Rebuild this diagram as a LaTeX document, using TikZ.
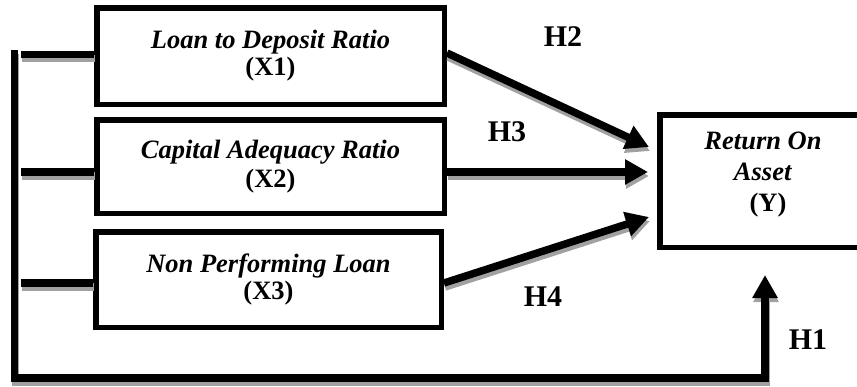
\documentclass[tikz,border=0pt]{standalone}
\usepackage{fontspec}
\setmainfont{Liberation Serif}
\usetikzlibrary{arrows.meta,calc}

\tikzset{
  varbox/.style={draw, line width=5.5pt, fill=white, inner sep=0pt, align=center,
    font=\fontsize{26.5}{27}\selectfont},
  link/.style={line width=7.5pt},
  tip/.style={-{Triangle[length=23pt,width=24pt]}},
  hyp/.style={font=\fontsize{30}{30}\selectfont\bfseries, inner sep=0pt},
}

% all connectors, drawn once as a shadow and once in black
\newcommand\drawlinks{%
  \draw[link] (s1) -- (s1 -| stubx);
  \draw[link] (s2) -- (s2 -| stubx);
  \draw[link] (s3) -- (s3 -| stubx);
  \draw[link, tip] ([yshift=3pt]X1.east) -- (t2);
  \draw[link, tip] (X2.east |- t3) -- (t3);
  \draw[link, tip] ([yshift=-3.5pt]X3.east) -- (t4);
  \draw[link, tip] (rail) -- (floor) -| (t1);
}

\begin{document}
\begin{tikzpicture}[x=1pt, y=-1pt]
  \useasboundingbox (0,0) rectangle (857,386);
  \clip (0,0) rectangle (857,386);

  % independent variables
  \node[varbox, minimum width=347.5pt, minimum height=96.5pt] (X1) at (270.5,56)
    {\textbf{\textit{Loan to Deposit Ratio}}\\\textbf{(X1)}};
  \node[varbox, minimum width=347.5pt, minimum height=93.5pt,
        font=\fontsize{26.5}{29}\selectfont] (X2) at (270.5,166.5)
    {\textbf{\textit{Capital Adequacy Ratio}}\\\textbf{(X2)}};
  \node[varbox, minimum width=345.5pt, minimum height=95.5pt] (X3) at (268.5,279.5)
    {\textbf{\textit{Non Performing Loan}}\\\textbf{(X3)}};

  % dependent variable
  \node[draw, line width=5.5pt, minimum width=206.5pt, minimum height=132.5pt] (Y) at (763,181) {};
  \node[align=center, inner sep=0pt, font=\fontsize{26.5}{31}\selectfont] (Ytext) at (763,175)
    {\textbf{\textit{Return On}}\\\textbf{\textit{Asset}}\\\hspace*{10pt}\textbf{(Y)}};

  % connector anchors
  \coordinate (rail) at (14.5,50);
  \coordinate (floor) at (14.5,378);
  \coordinate (stubx) at (21,0);
  \coordinate (s1) at ([yshift=1.5pt]X1.west);
  \coordinate (s2) at ([yshift=-5.5pt]X2.west);
  \coordinate (s3) at ([yshift=-3.5pt]X3.west);
  \coordinate (t2) at ([xshift=-8pt,yshift=34pt]Y.west);
  \coordinate (t3) at ([xshift=-9pt,yshift=9pt]Y.west);
  \coordinate (t4) at ([xshift=-8pt,yshift=-36pt]Y.west);
  \coordinate (t1) at ([xshift=2pt,yshift=-25pt]Y.south);

  \begin{scope}[black!37, transform canvas={shift={(1pt,-4pt)}}]
    \drawlinks
  \end{scope}
  \drawlinks

  % hypothesis labels
  \node[hyp] (H2) at (563,37) {H2};
  \node[hyp] (H3) at (507,132) {H3};
  \node[hyp] (H4) at (543,297) {H4};
  \node[hyp] (H1) at (808,340) {H1};
\end{tikzpicture}
\end{document}
